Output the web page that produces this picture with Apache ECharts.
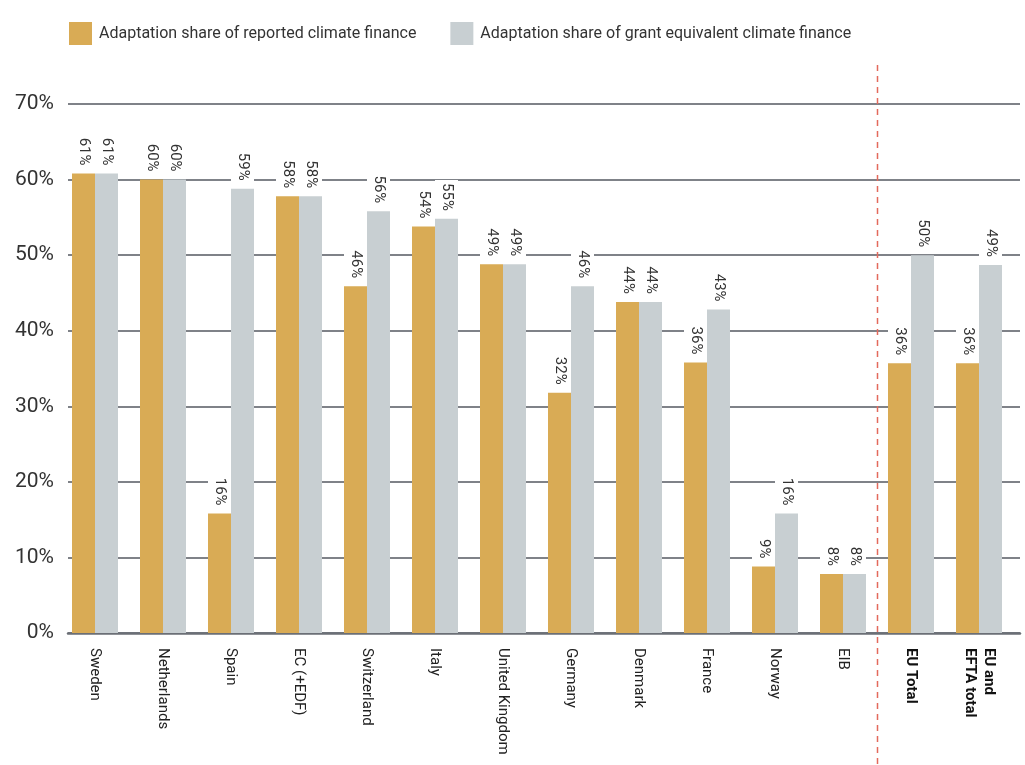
<!DOCTYPE html>
<html>
<head>
<meta charset="utf-8">
<script src="https://cdn.jsdelivr.net/npm/echarts@6/dist/echarts.min.js"></script>
<style>
html,body{margin:0;padding:0;background:#fff;}
#chart{width:1025px;height:765px;}
</style>
</head>
<body>
<div id="chart"></div>
<script>
var categories = ['Sweden','Netherlands','Spain','EC (+EDF)','Switzerland','Italy','United Kingdom','Germany','Denmark','France','Norway','EIB','EU Total','EU and\nEFTA total'];
var boldCategories = ['EU Total','EU and\nEFTA total'];
var reported = [60.8, 60.0, 15.8, 57.8, 45.9, 53.8, 48.8, 31.8, 43.8, 35.8, 8.8, 7.8, 35.7, 35.7];
var grantEquivalent = [60.8, 60.0, 58.8, 57.8, 55.8, 54.8, 48.8, 45.9, 43.8, 42.8, 15.8, 7.8, 50.0, 48.7];
var seriesNames = ['Adaptation share of reported climate finance','Adaptation share of grant equivalent climate finance'];
var yTicks = {min: 0, max: 70, interval: 10};

var FONT = 'Roboto';
var chart = echarts.init(document.getElementById('chart'));

function barLabel() {
  return {
    show: true,
    position: 'top',
    rotate: -90,
    align: 'right',
    verticalAlign: 'middle',
    distance: 5,
    color: '#333',
    fontFamily: FONT,
    fontSize: 15,
    backgroundColor: '#fff',
    padding: [4, 3, 4, 3],
    formatter: function (p) { return Math.round(p.value) + '%'; }
  };
}

var option = {
  animation: false,
  textStyle: {fontFamily: FONT},
  legend: {
    data: seriesNames,
    left: 64,
    top: 17,
    itemWidth: 23,
    itemHeight: 23,
    itemGap: 34,
    icon: 'rect',
    textStyle: {fontFamily: FONT, fontSize: 16, color: '#333', padding: [0, 0, 0, 2]}
  },
  grid: [
    {left: 68, right: 5, top: 104, bottom: 132},
    {left: 61, right: 12, top: 104, bottom: 132}
  ],
  xAxis: [
    {
      type: 'value', gridIndex: 0, min: 0, max: 1,
      axisLine: {show: true, onZero: false, lineStyle: {color: '#6b6f76', width: 2.5}},
      axisTick: {show: false}, axisLabel: {show: false}, splitLine: {show: false}
    },
    {
      type: 'category', gridIndex: 1, data: categories,
      axisLine: {show: false}, axisTick: {show: false},
      axisLabel: {
        interval: 0, rotate: -90, margin: 15,
        color: '#222', fontFamily: FONT, fontSize: 15,
        formatter: function (v) {
          if (boldCategories.indexOf(v) >= 0) {
            return v.split('\n').map(function (s) { return '{b|' + s + '}'; }).join('\n');
          }
          return v;
        },
        rich: {b: {fontWeight: 'bold', fontFamily: FONT, fontSize: 15, color: '#111', lineHeight: 19}}
      }
    }
  ],
  yAxis: [
    {
      type: 'value', gridIndex: 0, min: yTicks.min, max: yTicks.max, interval: yTicks.interval,
      axisLine: {show: false}, axisTick: {show: false},
      axisLabel: {margin: 14, color: '#333', fontFamily: FONT, fontSize: 21, formatter: '{value}%'},
      splitLine: {show: true, lineStyle: {color: '#555961', width: 1.5}}
    },
    {
      type: 'value', gridIndex: 1, min: yTicks.min, max: yTicks.max, interval: yTicks.interval,
      show: false, splitLine: {show: false}
    }
  ],
  series: [
    {
      name: seriesNames[0], type: 'bar', xAxisIndex: 1, yAxisIndex: 1,
      data: reported, barWidth: 23, barGap: '0%',
      itemStyle: {color: '#d9ab55'},
      label: barLabel()
    },
    {
      name: seriesNames[1], type: 'bar', xAxisIndex: 1, yAxisIndex: 1,
      data: grantEquivalent, barWidth: 23, barGap: '0%',
      itemStyle: {color: '#c8cfd2'},
      label: barLabel()
    }
  ]
};
chart.setOption(option);

var xA = chart.convertToPixel({xAxisIndex: 1}, categories[11]);
var xB = chart.convertToPixel({xAxisIndex: 1}, categories[12]);
var xSep = Math.round((xA + xB) / 2) + 0.5;
chart.setOption({
  graphic: [{
    type: 'line', z: 10,
    shape: {x1: xSep, y1: 65, x2: xSep, y2: 765},
    style: {stroke: '#e36a5c', lineWidth: 1.5, lineDash: [6, 5]}
  }]
});
</script>
</body>
</html>
